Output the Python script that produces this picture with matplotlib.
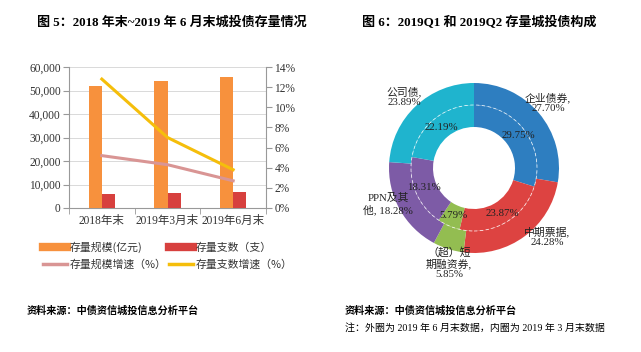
import matplotlib
matplotlib.use('Agg')
import matplotlib.pyplot as plt
from matplotlib.lines import Line2D

plt.rcParams['font.family'] = ['Liberation Serif', 'Noto Sans CJK SC', 'DejaVu Sans']

# --- left chart data ---
periods = ['2018年末', '2019年3月末', '2019年6月末']
scale = [51900, 54200, 55600]        # 存量规模(亿元)
count = [5900, 6400, 6700]           # 存量支数（支）
scale_growth = [5.2, 4.3, 2.7]       # %
count_growth = [12.8, 7.0, 3.8]      # %

# --- right chart data ---
pie_labels = ['企业债券', '中期票据', '（超）短期融资券', 'PPN及其他', '公司债']
outer_q2 = [27.70, 24.28, 5.85, 18.28, 23.89]
inner_q1 = [29.75, 23.87, 5.79, 18.31, 22.19]
pie_colors = ['#2E7EC0', '#DD4341', '#93BD51', '#7D5BA6', '#1FB4CE']

W, H = 641, 352
fig = plt.figure(figsize=(W / 100, H / 100), dpi=100)

def px(x, y):
    return x / W, 1 - y / H

title_kw = dict(fontweight='bold', fontsize=9.4,
                family=['Liberation Serif', 'Noto Sans CJK SC'])

# titles
fig.text(*px(172, 23), '图 5：2018 年末~2019 年 6 月末城投债存量情况',
         ha='center', va='center', **title_kw)
fig.text(*px(479, 23), '图 6：2019Q1 和 2019Q2 存量城投债构成',
         ha='center', va='center', **title_kw)

# ---------------- left: bars + lines ----------------
ax = fig.add_axes([69 / W, 1 - 208 / H, (266 - 69) / W, (208 - 67) / H])
x = list(range(len(periods)))
w = 0.2
ax.bar([i - w / 2 for i in x], scale, w, color='#F7913D', zorder=3)
ax.bar([i + w / 2 for i in x], count, w, color='#D7403E', zorder=3)
ax.set_ylim(0, 60000)
ax.set_yticks(range(0, 60001, 10000))
ax.set_yticklabels([f'{v:,}' for v in range(0, 60001, 10000)], fontsize=8.3, color='#333333')
ax.set_xlim(-0.5, 2.5)
ax.set_xticks(x)
ax.set_xticklabels(periods, fontsize=8.3, color='#333333')
ax.set_xticks([-0.5, 0.5, 1.5, 2.5], minor=True)
ax.tick_params(axis='x', which='major', length=0, pad=5)
ax.tick_params(axis='x', which='minor', length=4, color='#999999', direction='out')
ax.tick_params(axis='y', length=4, color='#999999', pad=2)
ax.grid(axis='y', color='#D9D9D9', lw=0.7, zorder=0)
for s in ['top', 'right']:
    ax.spines[s].set_visible(False)
for s in ['left', 'bottom']:
    ax.spines[s].set_color('#999999')
    ax.spines[s].set_linewidth(0.8)

ax2 = ax.twinx()
ax2.plot(x, scale_growth, color='#D99594', lw=2.2, zorder=4)
ax2.plot(x, count_growth, color='#F5BE0B', lw=2.2, zorder=4)
ax2.set_ylim(0, 14)
ax2.set_yticks(range(0, 15, 2))
ax2.set_yticklabels([f'{v}%' for v in range(0, 15, 2)], fontsize=8.3, color='#333333')
ax2.tick_params(axis='y', length=4, color='#999999', pad=2)
for s in ['top', 'left', 'bottom']:
    ax2.spines[s].set_visible(False)
ax2.spines['right'].set_color('#999999')
ax2.spines['right'].set_linewidth(0.8)

# legend (column-major order so rows read: 规模/支数, 规模增速/支数增速)
handles = [Line2D([], [], color='#F7913D', lw=6),
           Line2D([], [], color='#D99594', lw=2.5),
           Line2D([], [], color='#D7403E', lw=6),
           Line2D([], [], color='#F5BE0B', lw=2.5)]
labels = ['存量规模(亿元)', '存量规模增速（%）', '存量支数（支）', '存量支数增速（%）']
fig.legend(handles, labels, ncol=2, loc='center', bbox_to_anchor=px(168, 256),
           frameon=False, handlelength=2.2, handletextpad=0.3,
           columnspacing=0.2, labelspacing=0.6, labelcolor='#333333',
           prop={'family': ['Noto Sans CJK SC'], 'size': 7.8})

fig.text(*px(27, 311), '资料来源：中债资信城投信息分析平台', ha='left', va='center',
         fontsize=7.3, fontweight='bold', family=['Noto Sans CJK SC'])

# ---------------- right: double donut ----------------
cx, cy = 474, 168
R = 100
pax = fig.add_axes([(cx - R) / W, 1 - (cy + R) / H, 2 * R / W, 2 * R / H])
pax.pie(outer_q2, radius=85, colors=pie_colors, startangle=90, counterclock=False,
        wedgeprops=dict(width=22, linewidth=0))
pax.pie(inner_q1, radius=63, colors=pie_colors, startangle=90, counterclock=False,
        wedgeprops=dict(width=22, linewidth=0))
circ = plt.Circle((0, 0), 63, fill=False, ec='white', lw=0.6, ls=(0, (4, 3)), alpha=0.8)
pax.add_patch(circ)
pax.set_xlim(-R, R)
pax.set_ylim(-R, R)
pax.set_aspect('equal')
pax.axis('off')

def ptxt(x, y, s, **kw):
    pax.text(x - cx, cy - y, s, ha='center', va='center', fontsize=7.8,
             color='#222222', linespacing=1.15, **kw)

outer_pos = [(548, 103), (547, 237), (449, 263), (388, 204), (404, 97)]
inner_pos = [(518, 136), (502, 213), (453, 216), (424, 188), (441, 127)]
outer_txt = ['企业债券,\n{:.2f}%', '中期票据,\n{:.2f}%', '（超）短\n期融资券,\n{:.2f}%',
             'PPN及其\n他, {:.2f}%', '公司债,\n{:.2f}%']
for (px_, py_), t, v in zip(outer_pos, outer_txt, outer_q2):
    ptxt(px_, py_, t.format(v))
for (px_, py_), v in zip(inner_pos, inner_q1):
    ptxt(px_, py_, f'{v:.2f}%')

fig.text(*px(345, 311), '资料来源：中债资信城投信息分析平台', ha='left', va='center',
         fontsize=7.3, fontweight='bold', family=['Noto Sans CJK SC'])
fig.text(*px(345, 328), '注：外圈为 2019 年 6 月末数据，内圈为 2019 年 3 月末数据',
         ha='left', va='center', fontsize=7.2,
         family=['Liberation Serif', 'Noto Sans CJK SC'])

fig.savefig('out.png', dpi=100)
